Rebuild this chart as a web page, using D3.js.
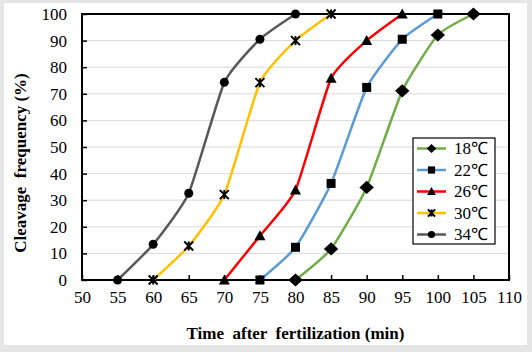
<!DOCTYPE html>
<html>
<head>
<meta charset="utf-8">
<script src="https://cdn.jsdelivr.net/npm/d3@7/dist/d3.min.js"></script>
<style>
html,body{margin:0;padding:0;background:#e5e5e5;}
svg{display:block;}
svg text{font-family:"Liberation Serif",Tinos,serif !important;}
</style>
</head>
<body>
<svg id="chart" width="532" height="352"></svg>
<script>
const seriesNames = ["18\u2103", "22\u2103", "26\u2103", "30\u2103", "34\u2103"];
const seriesColors = ["#70AD47", "#5B9BD5", "#FF0000", "#FFC000", "#595959"];
const seriesMarkers = ["diamond", "square", "triangle", "star", "circle"];
const times18 = [80, 85, 90, 95, 100, 105];
const vals18  = [0, 11.7, 34.8, 71.1, 92.1, 100];
const times22 = [75, 80, 85, 90, 95, 100];
const vals22  = [0, 12.3, 36.3, 72.4, 90.5, 100];
const times26 = [70, 75, 80, 85, 90, 95];
const vals26  = [0, 16.6, 33.8, 75.8, 90, 100];
const times30 = [60, 65, 70, 75, 80, 85];
const vals30  = [0, 12.8, 32.1, 74.2, 90, 100];
const times34 = [55, 60, 65, 70, 75, 80];
const vals34  = [0, 13.4, 32.6, 74.3, 90.5, 100];
const xTicks = [50, 55, 60, 65, 70, 75, 80, 85, 90, 95, 100, 105, 110];
const yTicks = [0, 10, 20, 30, 40, 50, 60, 70, 80, 90, 100];

const allTimes = [times18, times22, times26, times30, times34];
const allVals = [vals18, vals22, vals26, vals30, vals34];

const serif = '"Liberation Serif", Tinos, serif';
const svg = d3.select("#chart");

svg.append("rect").attr("x", 4).attr("y", 3).attr("width", 523).attr("height", 342).attr("fill", "#ffffff");

const x = d3.scaleLinear().domain([50, 110]).range([82, 509]);
const y = d3.scaleLinear().domain([0, 100]).range([280, 14]);

svg.append("g").selectAll("line").data(yTicks.filter(d => d > 0 && d < 100)).join("line")
  .attr("x1", x(50)).attr("x2", x(110))
  .attr("y1", d => y(d)).attr("y2", d => y(d))
  .attr("stroke", "#d9d9d9").attr("stroke-width", 1);

const xAxis = d3.axisBottom(x).tickValues(xTicks).tickSize(-5).tickPadding(14).tickFormat(d3.format("d"));
const yAxis = d3.axisLeft(y).tickValues(yTicks).tickSize(-5).tickPadding(15).tickFormat(d3.format("d"));

const gx = svg.append("g").attr("transform", `translate(0,${y(0)})`).call(xAxis);
const gy = svg.append("g").attr("transform", `translate(${x(50)},0)`).call(yAxis);
[gx, gy].forEach(g => {
  g.select(".domain").remove();
  g.attr("font-family", "Liberation Serif").attr("font-size", 17);
  g.selectAll(".tick line").attr("stroke", "#000").attr("stroke-width", 1.5);
  g.selectAll(".tick text").style("font-family", serif, "important").style("font-size", "17px").attr("fill", "#000");
});
gx.selectAll(".tick text").attr("dy", "0.55em");

svg.append("rect").attr("x", x(50)).attr("y", y(100))
  .attr("width", x(110) - x(50)).attr("height", y(0) - y(100))
  .attr("fill", "none").attr("stroke", "#000").attr("stroke-width", 2);

function drawMarker(g, type, cx, cy, s) {
  if (type === "diamond") {
    g.append("path").attr("d", `M${cx},${cy - s * 0.55}L${cx + s * 0.6},${cy}L${cx},${cy + s * 0.55}L${cx - s * 0.6},${cy}Z`).attr("fill", "#000");
  } else if (type === "square") {
    g.append("rect").attr("x", cx - s * 0.45).attr("y", cy - s * 0.45).attr("width", s * 0.9).attr("height", s * 0.9).attr("fill", "#000");
  } else if (type === "triangle") {
    g.append("path").attr("d", `M${cx},${cy - s * 0.55}L${cx + s * 0.55},${cy + s * 0.45}L${cx - s * 0.55},${cy + s * 0.45}Z`).attr("fill", "#000");
  } else if (type === "circle") {
    g.append("circle").attr("cx", cx).attr("cy", cy).attr("r", s * 0.45).attr("fill", "#000");
  } else if (type === "star") {
    const r = s * 0.45;
    g.append("path").attr("d", `M${cx - r},${cy - r}L${cx + r},${cy + r}M${cx + r},${cy - r}L${cx - r},${cy + r}M${cx},${cy - r}L${cx},${cy + r}`)
      .attr("stroke", "#000").attr("stroke-width", 2).attr("fill", "none");
  }
}

const line = d3.line().x(d => x(d[0])).y(d => y(d[1])).curve(d3.curveCardinal.tension(0.5));

seriesNames.forEach((name, i) => {
  const pts = allTimes[i].map((t, j) => [t, allVals[i][j]]);
  const g = svg.append("g");
  g.append("path").attr("d", line(pts)).attr("fill", "none")
    .attr("stroke", seriesColors[i]).attr("stroke-width", 2.5);
  pts.forEach(p => drawMarker(g, seriesMarkers[i], x(p[0]), y(p[1]), i === 0 ? 12 : 10));
});

svg.append("text").attr("x", (x(50) + x(110)) / 2).attr("y", 333)
  .attr("text-anchor", "middle").attr("dominant-baseline", "central")
  .style("font-family", serif, "important").style("font-weight", "bold").style("font-size", "17px")
  .style("white-space", "pre")
  .text("Time  after  fertilization (min)");
svg.append("text").attr("transform", "translate(20,163) rotate(-90)")
  .attr("text-anchor", "middle").attr("dominant-baseline", "central")
  .style("font-family", serif, "important").style("font-weight", "bold").style("font-size", "17px")
  .style("white-space", "pre")
  .text("Cleavage  frequency (%)");

const lg = svg.append("g");
lg.append("rect").attr("x", 413).attr("y", 138).attr("width", 82).attr("height", 106)
  .attr("fill", "#fff").attr("stroke", "#000").attr("stroke-width", 1.2);
seriesNames.forEach((name, i) => {
  const cy = 148.5 + i * 21.5;
  lg.append("line").attr("x1", 417).attr("x2", 446).attr("y1", cy).attr("y2", cy)
    .attr("stroke", seriesColors[i]).attr("stroke-width", 2.5);
  drawMarker(lg, seriesMarkers[i], 431.5, cy, 8);
  lg.append("text").attr("x", 454).attr("y", cy).attr("dominant-baseline", "central")
    .style("font-family", serif, "important").style("font-size", "17px").text(name);
});
</script>
</body>
</html>
